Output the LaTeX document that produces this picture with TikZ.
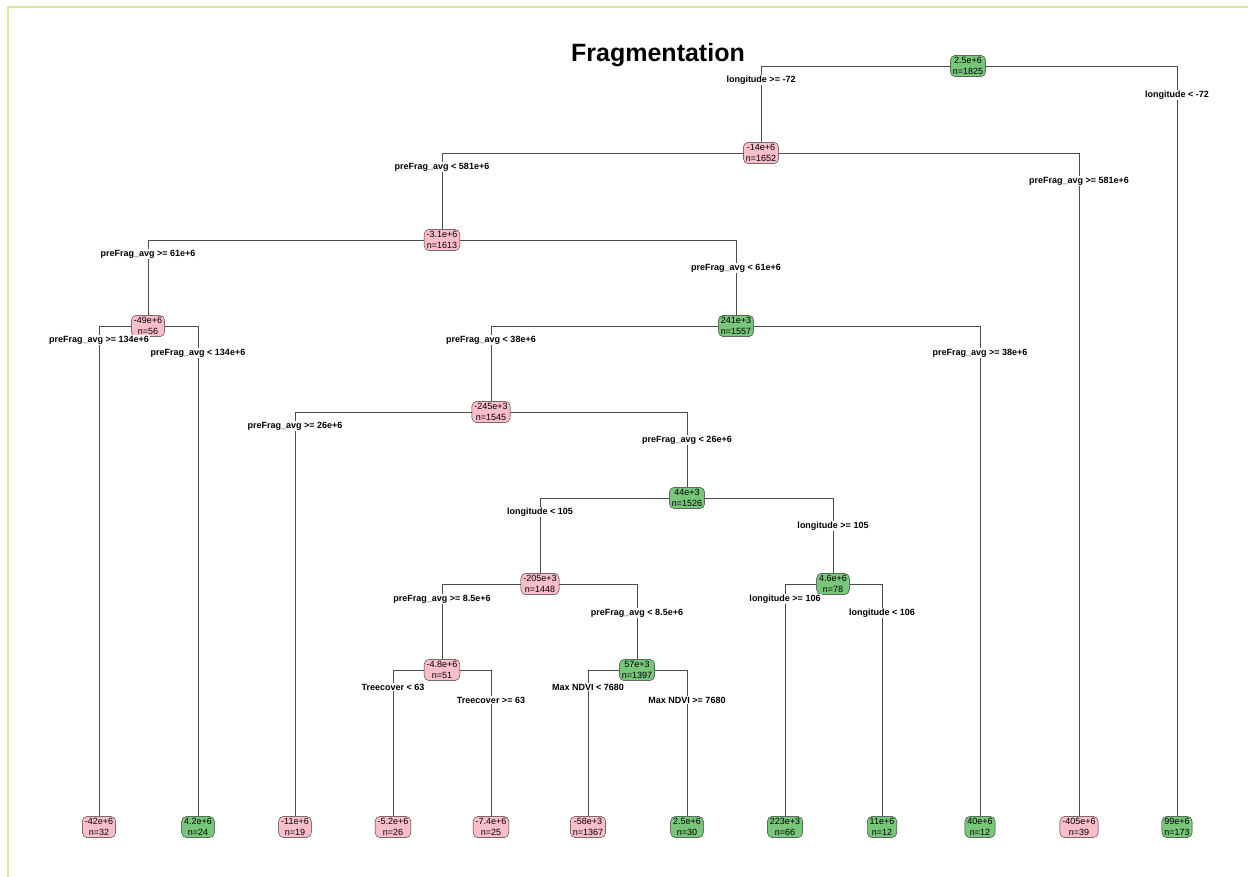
\documentclass[tikz,border=0pt]{standalone}
\usepackage{fontspec}
\setmainfont{Liberation Sans}
\definecolor{negpink}{RGB}{250,190,202}
\definecolor{posgreen}{RGB}{120,198,121}
\definecolor{framegreen}{RGB}{216,230,150}

\begin{document}
\begin{tikzpicture}[x=1pt, y=-1pt,
  every node/.style={font=\fontsize{9}{11}\selectfont, align=center},
  negbox/.style={draw=black!80, fill=negpink, rounded corners=5pt, inner xsep=2.5pt, inner ysep=2pt},
  posbox/.style={draw=black!80, fill=posgreen, rounded corners=5pt, inner xsep=2.5pt, inner ysep=2pt},
  split/.style={font=\fontsize{9}{10}\selectfont\bfseries, fill=white, inner sep=1pt},
  branch/.style={draw=black!70, line width=0.7pt}]
\useasboundingbox (0,0) rectangle (1248,877);
\draw[framegreen, line width=2.5pt] (8,877) -- (8,7) -- (1248,7);
\node[font=\fontsize{25}{30}\selectfont\bfseries] (title) at (658,55) {Fragmentation};
\node[posbox] (n1) at (968,66) {2.5e+6\\n=1825};
\node[negbox] (n2) at (761,153) {-14e+6\\n=1652};
\node[negbox] (n4) at (442,240) {-3.1e+6\\n=1613};
\node[negbox] (n8) at (148,326) {-49e+6\\n=56};
\node[posbox] (n9) at (736,326) {241e+3\\n=1557};
\node[negbox] (n18) at (491,412) {-245e+3\\n=1545};
\node[posbox] (n37) at (687,498) {44e+3\\n=1526};
\node[negbox] (n74) at (540,584) {-205e+3\\n=1448};
\node[posbox] (n75) at (833,584) {4.6e+6\\n=78};
\node[negbox] (n148) at (442,670) {-4.8e+6\\n=51};
\node[posbox] (n149) at (637,670) {57e+3\\n=1397};
\node[negbox] (l1) at (99,827) {-42e+6\\n=32};
\node[posbox] (l2) at (198,827) {4.2e+6\\n=24};
\node[negbox] (l3) at (295,827) {-11e+6\\n=19};
\node[negbox] (l4) at (393,827) {-5.2e+6\\n=26};
\node[negbox] (l5) at (491,827) {-7.4e+6\\n=25};
\node[negbox] (l6) at (588,827) {-58e+3\\n=1367};
\node[posbox] (l7) at (687,827) {2.5e+6\\n=30};
\node[posbox] (l8) at (785,827) {223e+3\\n=66};
\node[posbox] (l9) at (882,827) {11e+6\\n=12};
\node[posbox] (l10) at (980,827) {40e+6\\n=12};
\node[negbox] (l11) at (1079,827) {-405e+6\\n=39};
\node[posbox] (l12) at (1177,827) {99e+6\\n=173};
\draw[branch] (n1) -| (n2);
\draw[branch] (n1) -| (l12);
\draw[branch] (n2) -| (n4);
\draw[branch] (n2) -| (l11);
\draw[branch] (n4) -| (n8);
\draw[branch] (n4) -| (n9);
\draw[branch] (n8) -| (l1);
\draw[branch] (n8) -| (l2);
\draw[branch] (n9) -| (n18);
\draw[branch] (n9) -| (l10);
\draw[branch] (n18) -| (l3);
\draw[branch] (n18) -| (n37);
\draw[branch] (n37) -| (n74);
\draw[branch] (n37) -| (n75);
\draw[branch] (n74) -| (n148);
\draw[branch] (n74) -| (n149);
\draw[branch] (n75) -| (l8);
\draw[branch] (n75) -| (l9);
\draw[branch] (n148) -| (l4);
\draw[branch] (n148) -| (l5);
\draw[branch] (n149) -| (l6);
\draw[branch] (n149) -| (l7);
\node[split, yshift=-14pt] at (n1 -| n2) {longitude >= -72};
\node[split, yshift=-29pt] at (n1 -| l12) {longitude < -72};
\node[split, yshift=-14pt] at (n2 -| n4) {preFrag\_avg < 581e+6};
\node[split, yshift=-28pt] at (n2 -| l11) {preFrag\_avg >= 581e+6};
\node[split, yshift=-14pt] at (n4 -| n8) {preFrag\_avg >= 61e+6};
\node[split, yshift=-28pt] at (n4 -| n9) {preFrag\_avg < 61e+6};
\node[split, yshift=-14pt] at (n8 -| l1) {preFrag\_avg >= 134e+6};
\node[split, yshift=-27pt] at (n8 -| l2) {preFrag\_avg < 134e+6};
\node[split, yshift=-14pt] at (n9 -| n18) {preFrag\_avg < 38e+6};
\node[split, yshift=-27pt] at (n9 -| l10) {preFrag\_avg >= 38e+6};
\node[split, yshift=-14pt] at (n18 -| l3) {preFrag\_avg >= 26e+6};
\node[split, yshift=-28pt] at (n18 -| n37) {preFrag\_avg < 26e+6};
\node[split, yshift=-14pt] at (n37 -| n74) {longitude < 105};
\node[split, yshift=-28pt] at (n37 -| n75) {longitude >= 105};
\node[split, yshift=-15pt] at (n74 -| n148) {preFrag\_avg >= 8.5e+6};
\node[split, yshift=-29pt] at (n74 -| n149) {preFrag\_avg < 8.5e+6};
\node[split, yshift=-15pt] at (n75 -| l8) {longitude >= 106};
\node[split, yshift=-29pt] at (n75 -| l9) {longitude < 106};
\node[split, yshift=-17pt] at (n148 -| l4) {Treecover < 63};
\node[split, yshift=-30pt] at (n148 -| l5) {Treecover >= 63};
\node[split, yshift=-17pt] at (n149 -| l6) {Max NDVI < 7680};
\node[split, yshift=-30pt] at (n149 -| l7) {Max NDVI >= 7680};
\end{tikzpicture}
\end{document}
